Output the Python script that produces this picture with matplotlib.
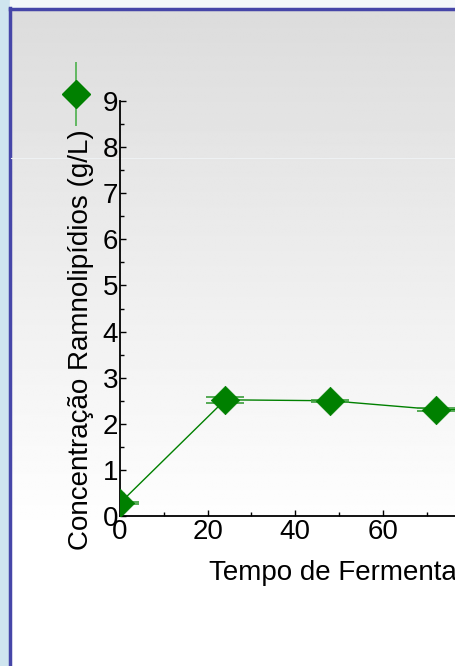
import numpy as np
import matplotlib
matplotlib.use("Agg")
import matplotlib.pyplot as plt
from matplotlib.lines import Line2D
from matplotlib.patches import Rectangle
from matplotlib.ticker import MultipleLocator

plt.rcParams['font.family'] = ['Liberation Sans', 'DejaVu Sans']

# data
tempo_h = [0, 24, 48, 72, 96]
ramnolipidios = [0.28, 2.52, 2.50, 2.31, 2.30]
erro = [0.02, 0.07, 0.02, 0.03, 0.03]
x_ticks = [0, 20, 40, 60, 80, 100, 120]
y_ticks = [0, 1, 2, 3, 4, 5, 6, 7, 8, 9]

W, H = 455, 666
fig = plt.figure(figsize=(W / 100, H / 100), dpi=100)

# background decoration
bg = fig.add_axes([0, 0, 1, 1], zorder=0)
bg.set_xlim(0, W)
bg.set_ylim(H, 0)
bg.axis('off')
bg.add_patch(Rectangle((0, 0), W, H, color='#cfe5ef', zorder=0))
bg.add_patch(Rectangle((10, 0), W, 8, color='#f4f8fa', zorder=1))
grad = np.linspace(0, 1, 300)
vals = 0.863 + (1 - 0.863) * np.clip(grad * 1.25, 0, 1)
img = np.repeat(vals[:, None], 2, axis=1)
bg.imshow(img, cmap='gray', vmin=0, vmax=1, extent=[10, W, H, 9],
          aspect='auto', zorder=2, interpolation='bilinear')
bg.plot([9.5, 9.5], [8, H], color='#4646a8', lw=2.5, zorder=3)
bg.plot([9.5, W], [8.5, 8.5], color='#4646a8', lw=2.5, zorder=3)
bg.plot([11, W], [158, 158], color='#eef1f3', lw=0.8, zorder=3)

# main axes (extends beyond the right edge, as in the cropped reference)
x0_px, y0_px = 120, 516
px_per_x = 4.383
px_per_y = 46.1
ax_w = 120 * px_per_x
ax_h = 9 * px_per_y
ax = fig.add_axes([x0_px / W, (H - y0_px) / H, ax_w / W, ax_h / H], zorder=2)
ax.patch.set_alpha(0)
ax.set_xlim(0, 120)
ax.set_ylim(0, 9)

for s in ['top', 'right']:
    ax.spines[s].set_visible(False)
for s in ['left', 'bottom']:
    ax.spines[s].set_linewidth(1.3)

ms = 14.5
ax.plot(tempo_h, ramnolipidios, color='#008000', lw=1.0, zorder=3)
eb = ax.errorbar(tempo_h, ramnolipidios, yerr=erro, fmt='none',
                 ecolor='#3a9e3a', elinewidth=1.2, capsize=13.7,
                 capthick=1.2, zorder=4)
for cap in eb[1]:
    cap.set_clip_path(ax.patch)
sc = ax.scatter(tempo_h, ramnolipidios, marker='D', s=ms ** 2,
                color='#008000', edgecolors='#008000', linewidths=0.5,
                zorder=5)
sc.set_clip_path(ax.patch)

ax.set_xticks(x_ticks)
ax.set_yticks(y_ticks)
ax.xaxis.set_minor_locator(MultipleLocator(10))
ax.yaxis.set_minor_locator(MultipleLocator(0.5))
ax.tick_params(axis='both', which='both', direction='in', width=1.0,
               labelsize=20)
ax.tick_params(axis='both', which='major', length=4)
ax.tick_params(axis='both', which='minor', length=3)
ax.tick_params(axis='y', pad=1.5)
ax.tick_params(axis='x', pad=2)

ax.set_xlabel('Tempo de Fermentação (h)', fontsize=20)
ax.xaxis.set_label_coords((376 - x0_px) / ax_w, -(560 - y0_px) / ax_h)
ax.xaxis.label.set_verticalalignment('top')
ax.set_ylabel('Concentração Ramnolipídios (g/L)', fontsize=20)
ax.yaxis.set_label_coords(-(x0_px - 94) / ax_w, (y0_px - 340) / ax_h)

# legend
h_err = Line2D([], [], linestyle='none', marker='|', ms=46, mew=1.2,
               color='#4cb04c')
h_mk = Line2D([], [], linestyle='none', marker='D', ms=ms,
              color='#008000')
fig.legend(handles=[(h_err, h_mk)], labels=[''], loc='center',
           bbox_to_anchor=(76 / W, 1 - 95 / H), frameon=False,
           handlelength=1.0, handletextpad=0, borderpad=0, borderaxespad=0,
           numpoints=1)

fig.savefig('out.png', dpi=100)
